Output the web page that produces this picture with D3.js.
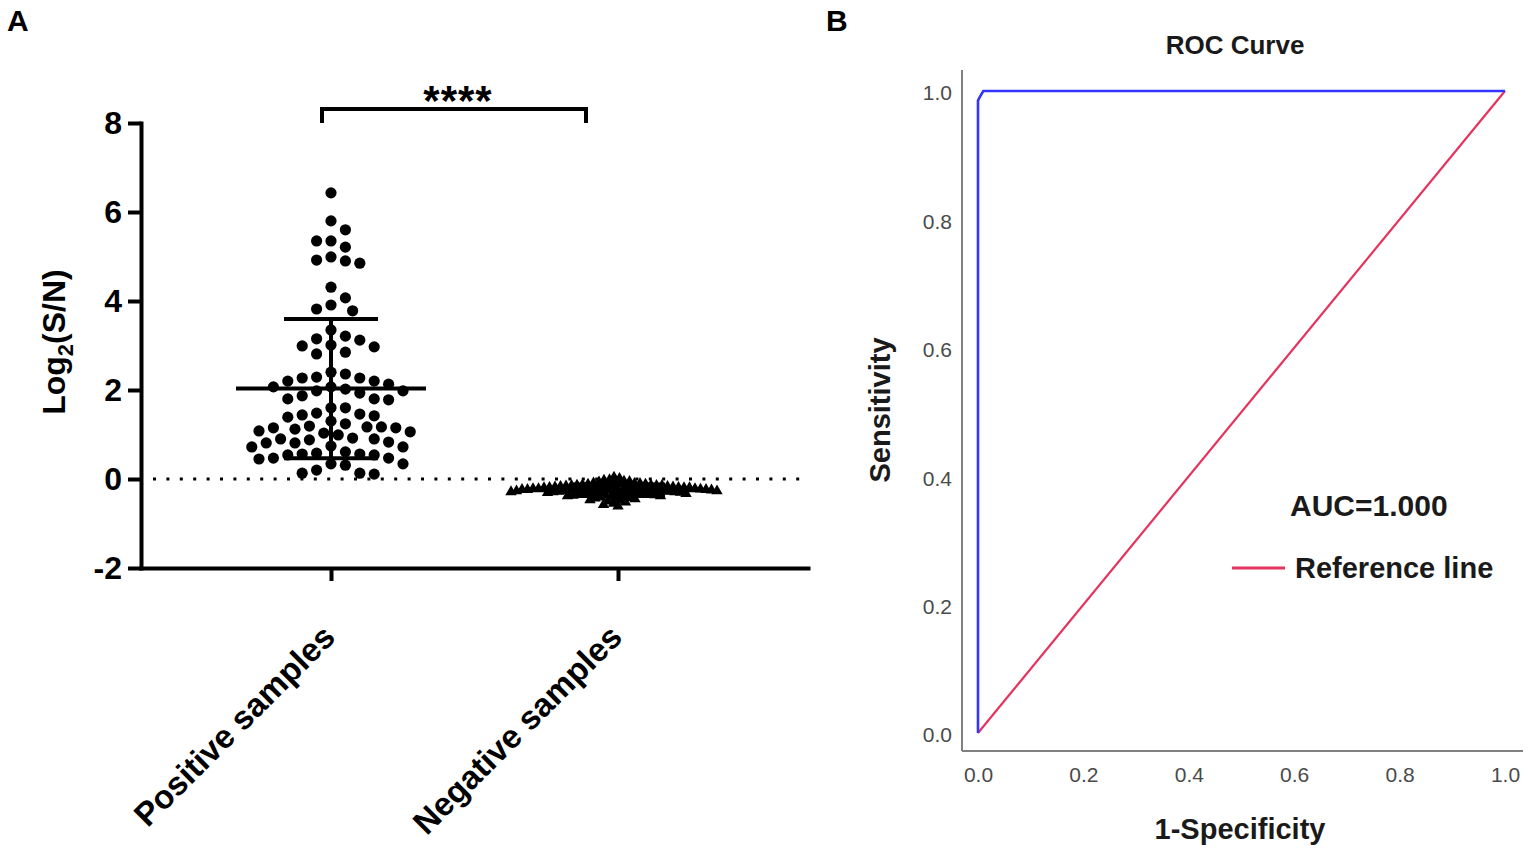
<!DOCTYPE html>
<html>
<head>
<meta charset="utf-8">
<script src="https://cdn.jsdelivr.net/npm/d3@7"></script>
<style>
  html, body { margin: 0; padding: 0; background: #fff; }
  svg { display: block; font-family: "Liberation Sans", Arial, sans-serif; }
</style>
</head>
<body>
<svg id="fig" width="1535" height="852"></svg>
<script>
// Panel A: scatter dot plot of log2(S/N)
const groups = ["Positive samples", "Negative samples"];
const yTicksA = [-2, 0, 2, 4, 6, 8];

const positiveVals = [
  6.43, 5.80, 5.60, 5.35, 5.35, 5.21, 4.92, 4.85, 4.90, 4.99,
  4.31, 4.07, 3.78, 3.82, 3.91, 3.35, 3.21, 3.15, 3.12, 2.99,
  3.01, 2.85, 2.97, 2.81, 2.36, 2.40, 2.20, 2.27, 2.20, 2.29,
  2.27, 2.13, 2.02, 2.07, 2.07, 1.98, 1.93, 1.98, 1.87, 1.80,
  1.78, 1.80, 1.60, 1.60, 1.44, 1.48, 1.39, 1.46, 1.42, 1.24,
  1.19, 1.06, 1.15, 1.15, 1.12, 1.17, 1.17, 0.99, 1.30, 1.03,
  1.08, 0.88, 0.92, 0.90, 0.74, 0.90, 0.81, 0.83, 0.81, 0.72,
  0.72, 0.61, 0.56, 0.54, 0.56, 0.47, 0.58, 0.47, 0.45, 0.54,
  0.34, 0.34, 0.31, 0.20, 0.13, 0.13, 0.11
];

const negativeVals = [
  0.04, 0.01, -0.02, -0.03, -0.05, -0.06, -0.07, -0.08, -0.09, -0.10,
  -0.10, -0.11, -0.12, -0.12, -0.13, -0.13, -0.14, -0.14, -0.15, -0.15,
  -0.15, -0.16, -0.16, -0.17, -0.17, -0.17, -0.18, -0.18, -0.18, -0.19,
  -0.19, -0.19, -0.20, -0.20, -0.20, -0.20, -0.21, -0.21, -0.21, -0.22,
  -0.22, -0.22, -0.22, -0.23, -0.23, -0.23, -0.24, -0.24, -0.24, -0.24,
  -0.25, -0.25, -0.25, -0.25, -0.26, -0.26, -0.26, -0.27, -0.27, -0.27,
  -0.27, -0.28, -0.28, -0.28, -0.29, -0.29, -0.29, -0.30, -0.30, -0.30,
  -0.31, -0.31, -0.31, -0.32, -0.32, -0.33, -0.33, -0.34, -0.34, -0.35,
  -0.35, -0.36, -0.36, -0.37, -0.38, -0.38, -0.39, -0.40, -0.41, -0.42,
  -0.43, -0.44, -0.45, -0.47, -0.48, -0.50, -0.52, -0.55, -0.58, -0.61
];

// Panel B: ROC curve
const rocFpr = [0, 0, 0.003, 0.01, 1];
const rocTpr = [0, 0.985, 0.99, 1, 1];
const refFpr = [0, 1];
const refTpr = [0, 1];
const rocTicks = [0, 0.2, 0.4, 0.6, 0.8, 1.0];
const aucText = "AUC=1.000";

const svg = d3.select('#fig');

// ---------- Panel A ----------
const gA = svg.append('g');

const yA = d3.scaleLinear().domain([-2, 8]).range([568, 123]);
const xA = d3.scalePoint().domain(groups).range([141, 808]).padding(0.662);

// greedy beeswarm; x offsets limited to multiples of `lane`
function swarm(values, y, cx, minDist, lane) {
  const pts = values.map(v => ({ v, y: y(v) })).sort((a, b) => d3.descending(a.v, b.v));
  const placed = [];
  for (const p of pts) {
    for (let k = 0; k < 2000; k++) {
      const off = k === 0 ? 0 : (k % 2 ? 1 : -1) * Math.ceil(k / 2) * lane;
      const x = cx + off;
      if (placed.every(q => (q.x - x) ** 2 + (q.y - p.y) ** 2 >= minDist * minDist)) {
        p.x = x;
        break;
      }
    }
    placed.push(p);
  }
  return pts;
}

// dotted zero line
gA.append('line')
  .attr('x1', 153).attr('x2', 808)
  .attr('y1', yA(0)).attr('y2', yA(0))
  .attr('stroke', '#000')
  .attr('stroke-width', 3)
  .attr('stroke-dasharray', '3,10.4');

const posPts = swarm(positiveVals, yA, xA(groups[0]), 13, 7.2);
gA.append('g')
  .selectAll('circle')
  .data(posPts)
  .join('circle')
  .attr('cx', d => d.x)
  .attr('cy', d => d.y)
  .attr('r', 5.6)
  .attr('fill', '#000');

const negPts = swarm(negativeVals, yA, xA(groups[1]) - 4, 5.2, 0.5);
const tri = d3.symbol().type(d3.symbolTriangle).size(56);
gA.append('g')
  .selectAll('path')
  .data(negPts)
  .join('path')
  .attr('d', tri)
  .attr('transform', d => `translate(${d.x},${d.y})`)
  .attr('fill', '#000');

// mean +/- SD
function meanSd(values, cx) {
  const m = d3.mean(values), s = d3.deviation(values);
  const g = gA.append('g').attr('stroke', '#000').attr('stroke-width', 4).attr('fill', 'none');
  g.append('line').attr('x1', cx - 95).attr('x2', cx + 95).attr('y1', yA(m)).attr('y2', yA(m));
  g.append('line').attr('x1', cx).attr('x2', cx).attr('y1', yA(m + s)).attr('y2', yA(m - s));
  [m + s, m - s].forEach(v => {
    g.append('line').attr('x1', cx - 47).attr('x2', cx + 47).attr('y1', yA(v)).attr('y2', yA(v));
  });
}
meanSd(positiveVals, xA(groups[0]));
meanSd(negativeVals, xA(groups[1]));

// axes
const axL = gA.append('g')
  .attr('transform', 'translate(141,0)')
  .call(d3.axisLeft(yA).tickValues(yTicksA).tickFormat(d => String(d))
    .tickSize(13).tickSizeOuter(0).tickPadding(6));
const axB = gA.append('g')
  .attr('transform', 'translate(0,568)')
  .call(d3.axisBottom(xA).tickSize(13).tickSizeOuter(0).tickFormat(''));
[axL, axB].forEach(ax => {
  ax.select('.domain').attr('stroke-width', 4).attr('stroke-linecap', 'square');
  ax.selectAll('.tick line').attr('stroke-width', 4);
});
axL.selectAll('.tick text')
  .attr('font-size', 32).attr('font-weight', 'bold').attr('fill', '#000')
  .attr('font-family', '"Liberation Sans", Arial, sans-serif');

// rotated category labels
gA.append('g')
  .selectAll('text')
  .data(groups)
  .join('text')
  .attr('transform', d => `translate(${xA(d) + 6},639) rotate(-45)`)
  .attr('text-anchor', 'end')
  .attr('font-size', 33)
  .attr('font-weight', 'bold')
  .text(d => d);

// y title with subscript
const yt = gA.append('text')
  .attr('transform', 'translate(65,342) rotate(-90)')
  .attr('text-anchor', 'middle')
  .attr('font-size', 32)
  .attr('font-weight', 'bold');
yt.append('tspan').text('Log');
yt.append('tspan').attr('font-size', 22).attr('dy', 8).text('2');
yt.append('tspan').attr('dy', -8).text('(S/N)');

// significance bracket
const xL = xA(groups[0]) - 9, xR = xA(groups[1]) - 32;
gA.append('path')
  .attr('d', d3.line()([[xL, 123], [xL, 109], [xR, 109], [xR, 123]]))
  .attr('fill', 'none').attr('stroke', '#000').attr('stroke-width', 4);
gA.append('text')
  .attr('x', (xL + xR) / 2 + 4).attr('y', 115)
  .attr('text-anchor', 'middle')
  .attr('font-size', 42).attr('font-weight', 'bold')
  .attr('letter-spacing', 1)
  .text('****');

gA.append('text').attr('x', 7).attr('y', 31)
  .attr('font-size', 30).attr('font-weight', 'bold').text('A');

// ---------- Panel B ----------
const gB = svg.append('g');
const xB = d3.scaleLinear().domain([0, 1]).range([978, 1505]);
const yB = d3.scaleLinear().domain([0, 1]).range([733, 91]);

gB.append('text').attr('x', 826).attr('y', 31)
  .attr('font-size', 30).attr('font-weight', 'bold').text('B');

gB.append('text').attr('x', 1235).attr('y', 54)
  .attr('text-anchor', 'middle')
  .attr('font-size', 26).attr('font-weight', 'bold').attr('fill', '#1a1a1a')
  .text('ROC Curve');

// axis frame lines
gB.append('line').attr('x1', 962).attr('x2', 962).attr('y1', 70).attr('y2', 751)
  .attr('stroke', '#808080').attr('stroke-width', 2);
gB.append('line').attr('x1', 962).attr('x2', 1523).attr('y1', 751).attr('y2', 751)
  .attr('stroke', '#808080').attr('stroke-width', 2);

const fmt = d3.format('.1f');
const axBy = gB.append('g').attr('transform', 'translate(962,0)')
  .call(d3.axisLeft(yB).tickValues(rocTicks).tickFormat(fmt).tickSize(0).tickPadding(10));
const axBx = gB.append('g').attr('transform', 'translate(0,751)')
  .call(d3.axisBottom(xB).tickValues(rocTicks).tickFormat(fmt).tickSize(0).tickPadding(16));
[axBy, axBx].forEach(ax => {
  ax.select('.domain').remove();
  ax.selectAll('.tick text')
    .attr('font-size', 21).attr('fill', '#4a4a4a')
    .attr('font-family', '"Liberation Sans", Arial, sans-serif');
});
axBy.selectAll('.tick text').attr('dy', '0.42em');

const lineB = d3.line().x(d => xB(d[0])).y(d => yB(d[1]));
gB.append('path')
  .attr('d', lineB(d3.zip(refFpr, refTpr)))
  .attr('fill', 'none').attr('stroke', '#e5335f').attr('stroke-width', 2.2);
gB.append('path')
  .attr('d', lineB(d3.zip(rocFpr, rocTpr)))
  .attr('fill', 'none').attr('stroke', '#3434ff').attr('stroke-width', 2.6);

gB.append('text')
  .attr('transform', 'translate(890,410) rotate(-90)')
  .attr('text-anchor', 'middle')
  .attr('font-size', 29).attr('font-weight', 'bold').attr('fill', '#1a1a1a')
  .text('Sensitivity');
gB.append('text').attr('x', 1240).attr('y', 839)
  .attr('text-anchor', 'middle')
  .attr('font-size', 29).attr('font-weight', 'bold').attr('fill', '#1a1a1a')
  .text('1-Specificity');

gB.append('text').attr('x', 1290).attr('y', 516)
  .attr('font-size', 30).attr('font-weight', 'bold').attr('fill', '#1a1a1a')
  .text(aucText);
gB.append('line').attr('x1', 1232).attr('x2', 1285).attr('y1', 568).attr('y2', 568)
  .attr('stroke', '#e5335f').attr('stroke-width', 3);
gB.append('text').attr('x', 1295).attr('y', 578)
  .attr('font-size', 29).attr('font-weight', 'bold').attr('fill', '#1a1a1a')
  .text('Reference line');
</script>
</body>
</html>
